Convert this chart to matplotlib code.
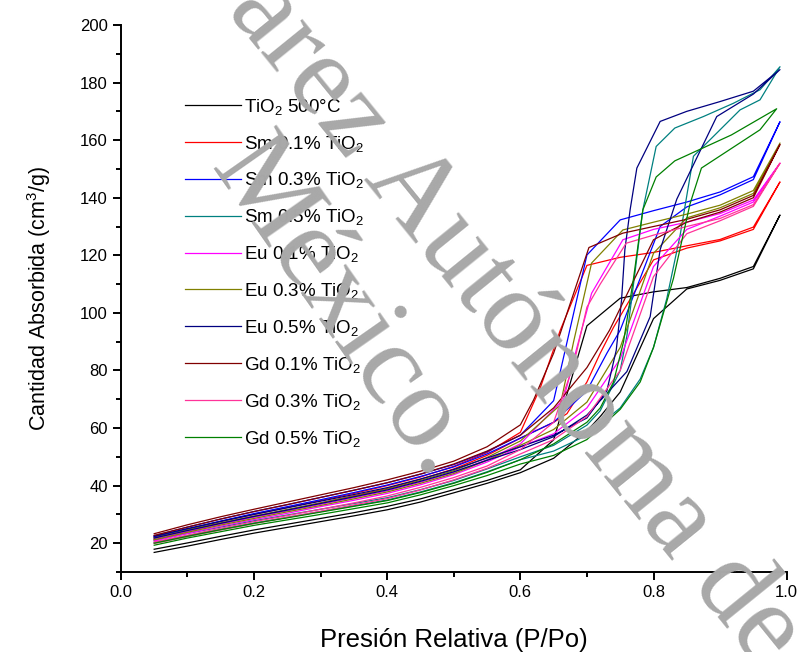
import matplotlib
matplotlib.use("Agg")
import matplotlib.pyplot as plt
from matplotlib.ticker import MultipleLocator

plt.rcParams['font.family'] = ['Liberation Sans', 'DejaVu Sans']
plt.rcParams['mathtext.default'] = 'regular'

# low pressure grid used by every isotherm (adsorption, then desorption back down)
p_low = [0.05, 0.10, 0.15, 0.20, 0.25, 0.30, 0.35, 0.40, 0.45, 0.50, 0.55, 0.60]
p_low_back = [0.55, 0.50, 0.45, 0.40, 0.35, 0.30, 0.25, 0.20, 0.15, 0.10, 0.05]

# TiO2 500°C
tio2_p = p_low + [0.65, 0.70, 0.72, 0.75, 0.80, 0.85, 0.90, 0.95, 0.99,
                  0.95, 0.90, 0.85, 0.80, 0.75, 0.70, 0.65, 0.60] + p_low_back
tio2_v = [16.8, 19.0, 21.3, 23.5, 25.5, 27.5, 29.5, 31.6, 34.3, 37.5, 40.8, 44.5,
          49.5, 59.0, 64.0, 72.5, 98.0, 108.3, 111.3, 115.3, 134.0,
          116.1, 112.0, 108.8, 107.3, 105.1, 95.5, 55.9, 45.5,
          41.8, 38.6, 35.4, 32.8, 30.6, 28.6, 26.6, 24.6, 22.4, 20.1, 17.9]

# Sm 0.1%
sm1_p = p_low + [0.65, 0.67, 0.70, 0.72, 0.74, 0.80, 0.85, 0.90, 0.95, 0.99,
                 0.95, 0.90, 0.85, 0.80, 0.75, 0.70, 0.66, 0.63, 0.60] + p_low_back
sm1_v = [21.3, 24.0, 26.8, 29.3, 31.6, 34.0, 36.5, 39.0, 42.2, 45.8, 50.5, 56.5,
         62.0, 65.0, 76.0, 86.0, 95.0, 118.4, 122.5, 125.0, 129.0, 145.5,
         129.8, 125.5, 123.3, 121.0, 119.3, 116.5, 94.0, 74.0, 58.5,
         51.5, 46.7, 43.0, 40.0, 37.3, 34.8, 32.4, 30.0, 27.5, 24.8, 21.9]

# Sm 0.3%
sm3_p = p_low + [0.65, 0.70, 0.73, 0.75, 0.81, 0.85, 0.90, 0.95, 0.99,
                 0.95, 0.90, 0.85, 0.80, 0.75, 0.70, 0.65, 0.60] + p_low_back
sm3_v = [22.2, 24.9, 27.7, 30.3, 32.7, 35.1, 37.6, 40.2, 43.2, 46.5, 51.0, 56.5,
         62.0, 73.0, 86.0, 94.0, 130.0, 136.8, 141.0, 146.3, 166.4,
         147.3, 142.0, 138.5, 135.5, 132.3, 120.1, 69.5, 57.5,
         51.8, 47.3, 44.0, 41.0, 38.4, 35.9, 33.4, 31.0, 28.4, 25.6, 22.6]

# Sm 0.5%
sm5_p = p_low + [0.65, 0.70, 0.75, 0.78, 0.80, 0.82, 0.84, 0.86, 0.93, 0.96, 0.99,
                 0.96, 0.92, 0.875, 0.832, 0.804, 0.784, 0.77, 0.76, 0.75, 0.72,
                 0.70, 0.65, 0.60] + p_low_back
sm5_v = [20.3, 22.6, 24.8, 27.0, 29.0, 31.0, 33.0, 35.0, 37.8, 41.0, 44.8, 49.0,
         52.0, 57.5, 67.0, 77.0, 88.0, 105.0, 127.0, 154.4, 170.5, 174.0, 185.5,
         177.5, 172.8, 168.2, 164.2, 157.8, 135.8, 110.0, 92.0, 80.0, 66.0,
         61.0, 54.0, 50.0,
         45.8, 41.8, 38.6, 35.8, 33.8, 31.8, 29.8, 27.8, 25.6, 23.4, 21.0]

# Eu 0.1%
eu1_p = p_low + [0.65, 0.70, 0.75, 0.80, 0.85, 0.90, 0.95, 0.99,
                 0.95, 0.90, 0.85, 0.80, 0.754, 0.707, 0.685, 0.665, 0.60] + p_low_back
eu1_v = [20.8, 23.4, 25.9, 28.2, 30.4, 32.7, 34.9, 37.3, 40.3, 43.8, 48.2, 53.5,
         58.0, 67.0, 84.0, 116.1, 129.0, 133.6, 138.5, 152.0,
         139.2, 134.5, 131.5, 129.0, 125.4, 106.8, 88.0, 70.0, 54.5,
         49.0, 44.6, 41.2, 38.2, 35.8, 33.5, 31.2, 29.0, 26.6, 24.1, 21.4]

# Eu 0.3%
eu3_p = p_low + [0.65, 0.70, 0.75, 0.80, 0.85, 0.90, 0.95, 0.99,
                 0.95, 0.90, 0.85, 0.80, 0.754, 0.707, 0.68, 0.66, 0.60] + p_low_back
eu3_v = [21.2, 23.8, 26.3, 28.6, 30.9, 33.1, 35.4, 37.8, 40.8, 44.2, 48.8, 54.0,
         59.5, 69.0, 88.0, 120.7, 133.0, 136.5, 141.5, 159.0,
         142.5, 137.4, 134.3, 131.5, 128.8, 117.3, 90.0, 68.0, 55.5,
         49.8, 45.2, 41.8, 38.8, 36.3, 34.0, 31.7, 29.4, 27.1, 24.6, 21.8]

# Eu 0.5%
eu5_p = p_low + [0.65, 0.70, 0.76, 0.795, 0.81, 0.835, 0.895, 0.95, 0.99,
                 0.95, 0.90, 0.85, 0.81, 0.775, 0.765, 0.757, 0.752, 0.744, 0.73,
                 0.70, 0.65, 0.60] + p_low_back
eu5_v = [21.8, 24.4, 26.9, 29.3, 31.5, 33.8, 36.1, 38.5, 41.5, 44.8, 48.8, 52.5,
         57.0, 64.5, 79.6, 98.7, 122.0, 139.5, 168.2, 176.0, 184.5,
         177.0, 173.4, 170.0, 166.5, 150.3, 136.0, 122.0, 104.5, 87.0, 73.0,
         63.5, 57.5, 53.5,
         49.6, 45.6, 42.3, 39.3, 36.9, 34.6, 32.3, 30.0, 27.6, 25.1, 22.4]

# Gd 0.1%
gd1_p = p_low + [0.65, 0.70, 0.734, 0.80, 0.85, 0.90, 0.95, 0.99,
                 0.95, 0.90, 0.85, 0.80, 0.754, 0.703, 0.65, 0.62, 0.60] + p_low_back
gd1_v = [22.7, 25.6, 28.4, 31.0, 33.4, 35.9, 38.4, 41.0, 44.0, 47.5, 52.0, 57.5,
         67.0, 81.0, 94.0, 125.4, 131.5, 135.0, 140.0, 158.5,
         140.8, 135.8, 132.5, 130.0, 127.7, 122.7, 86.0, 69.8, 61.1,
         53.5, 48.5, 45.0, 42.0, 39.3, 36.8, 34.3, 31.8, 29.2, 26.4, 23.3]

# Gd 0.3%
gd3_p = p_low + [0.65, 0.70, 0.75, 0.80, 0.85, 0.90, 0.95, 0.99,
                 0.95, 0.90, 0.85, 0.80, 0.759, 0.72, 0.70, 0.68, 0.65, 0.60] + p_low_back
gd3_v = [19.9, 22.3, 24.6, 26.8, 29.0, 31.1, 33.3, 35.5, 38.5, 42.0, 46.0, 51.0,
         56.0, 64.0, 80.0, 112.6, 127.5, 132.0, 137.0, 152.0,
         137.6, 132.8, 130.0, 127.0, 124.2, 110.0, 102.0, 82.0, 62.0, 52.5,
         46.8, 42.8, 39.4, 36.4, 34.0, 31.8, 29.6, 27.5, 25.2, 22.8, 20.4]

# Gd 0.5%
gd5_p = p_low + [0.65, 0.70, 0.75, 0.78, 0.80, 0.83, 0.855, 0.872, 0.96, 0.985,
                 0.917, 0.832, 0.804, 0.784, 0.77, 0.755, 0.74, 0.72, 0.70,
                 0.65, 0.60] + p_low_back
gd5_v = [19.3, 21.8, 24.0, 26.2, 28.1, 30.0, 32.0, 34.0, 36.8, 40.0, 43.5, 47.5,
         50.5, 56.0, 66.5, 76.0, 88.0, 112.0, 138.0, 150.3, 163.6, 170.9,
         161.8, 152.8, 147.2, 135.8, 112.0, 90.0, 76.0, 67.0, 62.0,
         54.5, 49.0,
         44.6, 40.8, 37.6, 34.8, 32.8, 30.8, 28.8, 26.9, 24.7, 22.4, 20.0]

labels = ['TiO$_2$ 500°C', 'Sm 0.1% TiO$_2$', 'Sm 0.3% TiO$_2$', 'Sm 0.5% TiO$_2$',
          'Eu 0.1% TiO$_2$', 'Eu 0.3% TiO$_2$', 'Eu 0.5% TiO$_2$',
          'Gd 0.1% TiO$_2$', 'Gd 0.3% TiO$_2$', 'Gd 0.5% TiO$_2$']
colors = ['#000000', '#ff0000', '#0000ff', '#008080', '#ff00ff',
          '#808000', '#000080', '#800000', '#ff3399', '#008000']
series = [(tio2_p, tio2_v), (sm1_p, sm1_v), (sm3_p, sm3_v), (sm5_p, sm5_v),
          (eu1_p, eu1_v), (eu3_p, eu3_v), (eu5_p, eu5_v),
          (gd1_p, gd1_v), (gd3_p, gd3_v), (gd5_p, gd5_v)]

fig = plt.figure(figsize=(8.06, 6.52), dpi=100)
ax = fig.add_axes([0.150, 0.1227, 0.826, 0.839])

# grey watermark behind the chart
fig.text(0.638, 0.505, 'arez Autónoma de', family='Liberation Serif', fontsize=84,
         color='#a8a8a8', rotation=-51, rotation_mode='anchor',
         ha='center', va='center', zorder=0)
fig.text(0.425, 0.525, 'México.', family='Liberation Serif', fontsize=84,
         color='#a8a8a8', rotation=-55, rotation_mode='anchor',
         ha='center', va='center', zorder=0)
ax.patch.set_alpha(0)

for (p, v), lab, c in zip(series, labels, colors):
    ax.plot(p, v, color=c, lw=0.9, label=lab)

ax.set_xlim(0, 1.0)
ax.set_ylim(10, 200)
ax.xaxis.set_major_locator(MultipleLocator(0.2))
ax.xaxis.set_minor_locator(MultipleLocator(0.1))
ax.yaxis.set_minor_locator(MultipleLocator(10))
ax.set_yticks([20, 40, 60, 80, 100, 120, 140, 160, 180, 200])
ax.spines['top'].set_visible(False)
ax.spines['right'].set_visible(False)
for s in ['left', 'bottom']:
    ax.spines[s].set_linewidth(1.4)
ax.tick_params(which='major', direction='out', length=6, width=1.4, labelsize=12)
ax.tick_params(which='minor', direction='out', length=3.5, width=1.4)

ax.set_xlabel('Presión Relativa (P/Po)', fontsize=18.5, labelpad=20)
ax.set_ylabel('Cantidad Absorbida (cm$^3$/g)', fontsize=15.5, labelpad=19)

ax.legend(loc='upper left', bbox_to_anchor=(0.096, 0.869), frameon=False,
          fontsize=13.5, handlelength=3.0, handletextpad=0.15, labelspacing=0.9,
          borderpad=0, borderaxespad=0)

fig.savefig('out.png', dpi=100)
